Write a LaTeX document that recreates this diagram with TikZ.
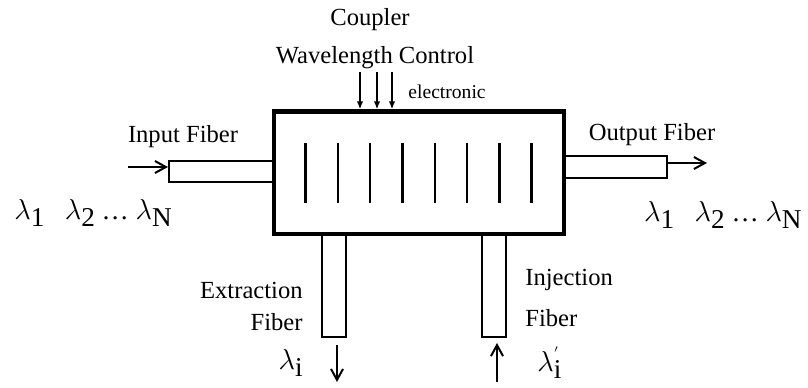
\documentclass[tikz,border=0pt]{standalone}
\usepackage{fontspec}
\setmainfont{Liberation Serif}
\usepackage{tikz}
\usetikzlibrary{arrows.meta,positioning,calc}
\newcommand{\lam}[1]{$\lambda$\raisebox{-0.6ex}{#1}}
\newcommand{\lamprime}[1]{$\lambda$\raisebox{-0.6ex}{\makebox[0pt][l]{\raisebox{1.6ex}{\scriptsize$'$}}#1}}
\tikzset{
  couplerbox/.style={
    draw=black,
    line width=2.1pt,
    fill=white,
    minimum width=145pt,
    minimum height=61.25pt,
    inner sep=0pt
  },
  fiberbox/.style={
    draw=black,
    line width=1pt,
    fill=white,
    inner sep=0pt
  },
  gratingline/.style={line width=1.2pt,draw=black},
  lightflow/.style={-{Straight Barb[length=5.5pt,width=6pt,line width=1pt]},line width=1pt,draw=black},
  ctrlflow/.style={-{Latex[length=4pt,width=3.2pt]},line width=0.8pt,draw=black},
  labeltext/.style={inner sep=0pt,font=\fontsize{12.3}{14}\selectfont},
  smalltext/.style={inner sep=0pt,font=\fontsize{9.8}{11}\selectfont},
  lambdatext/.style={inner sep=0pt,font=\fontsize{13.6}{15}\selectfont}
}

\begin{document}
\begin{tikzpicture}[x=0.5pt,y=-0.5pt]
  \useasboundingbox (0,0) rectangle (808,387);

  % fibers first, the coupler border covers their inner ends
  \node[fiberbox,minimum width=52.5pt,minimum height=10.5pt] (infiber) at (221.5,171) {};
  \node[fiberbox,minimum width=51.5pt,minimum height=11pt] (outfiber) at (615.5,167) {};
  \node[fiberbox,minimum width=12pt,minimum height=51.5pt] (extfiber) at (333.5,285.5) {};
  \node[fiberbox,minimum width=12pt,minimum height=51.5pt] (injfiber) at (494,285.5) {};

  \node[couplerbox] (coupler) at (419,172.75) {};

  % grating
  \foreach \i in {0,...,7}
    \draw[gratingline] ($(coupler.center)+(-113.5+\i*32.3,-30)$) -- ++(0,60);

  % wavelength control
  \foreach \cx [count=\k] in {360,377,392} {
    \coordinate (ctl\k) at (\cx,72);
    \draw[ctrlflow] (ctl\k) -- (ctl\k |- coupler.north);
  }
  \node[labeltext] (coupl) at (370,20) {Coupler};
  \node[labeltext] (wlctrl) at (375,58) {Wavelength Control};
  \node[smalltext,anchor=west] (elec) at (408,92) {electronic};

  % input and output
  \coordinate (intail) at (128,167);
  \draw[lightflow] (intail) -- (intail -| infiber.west);
  \coordinate (outtip) at (707,163);
  \draw[lightflow] (outtip -| outfiber.east) -- (outtip);
  \node[labeltext] (inlabel) at (183,137) {Input Fiber};
  \node[labeltext] (outlabel) at (652,135) {Output Fiber};
  \node[lambdatext,anchor=west] (inlam) at (14,213) {\lam{1}\hspace{0.75em}\lam{2} \dots\ \lam{N}};
  \node[lambdatext,anchor=east] (outlam) at (802,215) {\lam{1}\hspace{0.75em}\lam{2} \dots\ \lam{N}};

  % extraction and injection
  \coordinate (extip) at (337,382);
  \draw[lightflow,shorten <=3.5pt] (extfiber.south -| extip) -- (extip);
  \coordinate (injtail) at (497,382);
  \draw[lightflow,shorten >=2.5pt] (injtail) -- (injtail |- injfiber.south);
  \node[labeltext,anchor=east] (extlabel) at (303,290) {Extraction};
  \node[labeltext,anchor=east] (extfib) at (303,322) {Fiber};
  \node[lambdatext,anchor=east] (extlam) at (303,363) {\lam{i}};
  \node[labeltext,anchor=west] (injlabel) at (525,280) {Injection};
  \node[labeltext,anchor=west] (injfib) at (525,318) {Fiber};
  \node[lambdatext,anchor=west] (injlam) at (537,363) {\lamprime{i}};
\end{tikzpicture}
\end{document}
